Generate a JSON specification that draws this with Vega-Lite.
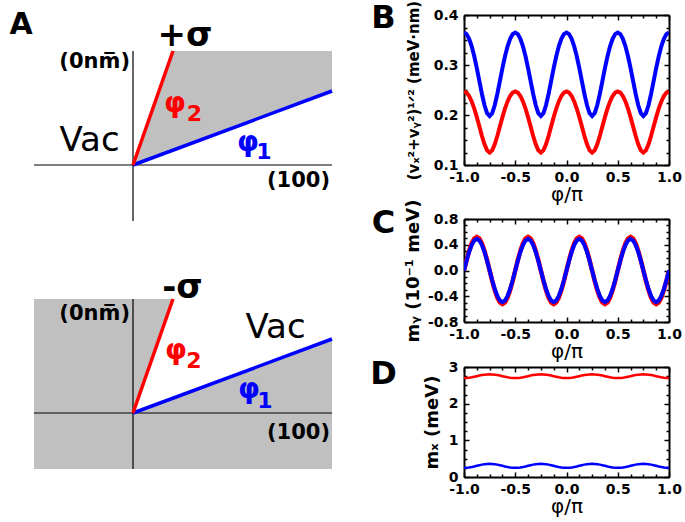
{
"$schema":"https://vega.github.io/schema/vega-lite/v6.json",
"padding":0,
"background":"white",
"datasets":{"curves":[
{"phi":-1,"vB":0.365,"vR":0.247,"myR":0,"myB":0,"mxR":2.7,"mxB":0.25},
{"phi":-0.975,"vB":0.3618,"vR":0.2447,"myR":0.1607,"myB":0.1514,"mxR":2.7024,"mxB":0.2527},
{"phi":-0.95,"vB":0.3525,"vR":0.238,"myR":0.3057,"myB":0.288,"mxR":2.7096,"mxB":0.2605},
{"phi":-0.925,"vB":0.3374,"vR":0.2272,"myR":0.4207,"myB":0.3964,"mxR":2.7206,"mxB":0.2727},
{"phi":-0.9,"vB":0.3174,"vR":0.2129,"myR":0.4946,"myB":0.466,"mxR":2.7346,"mxB":0.288},
{"phi":-0.875,"vB":0.2936,"vR":0.1957,"myR":0.52,"myB":0.49,"mxR":2.75,"mxB":0.305},
{"phi":-0.85,"vB":0.2677,"vR":0.1769,"myR":0.4946,"myB":0.466,"mxR":2.7655,"mxB":0.322},
{"phi":-0.825,"vB":0.242,"vR":0.158,"myR":0.4207,"myB":0.3964,"mxR":2.7794,"mxB":0.3373},
{"phi":-0.8,"vB":0.2195,"vR":0.1412,"myR":0.3057,"myB":0.288,"mxR":2.7905,"mxB":0.3495},
{"phi":-0.775,"vB":0.2037,"vR":0.1293,"myR":0.1607,"myB":0.1514,"mxR":2.7976,"mxB":0.3573},
{"phi":-0.75,"vB":0.198,"vR":0.1249,"myR":0,"myB":0,"mxR":2.8,"mxB":0.36},
{"phi":-0.725,"vB":0.2037,"vR":0.1293,"myR":-0.1607,"myB":-0.1514,"mxR":2.7976,"mxB":0.3573},
{"phi":-0.7,"vB":0.2195,"vR":0.1412,"myR":-0.3057,"myB":-0.288,"mxR":2.7905,"mxB":0.3495},
{"phi":-0.675,"vB":0.242,"vR":0.158,"myR":-0.4207,"myB":-0.3964,"mxR":2.7794,"mxB":0.3373},
{"phi":-0.65,"vB":0.2677,"vR":0.1769,"myR":-0.4946,"myB":-0.466,"mxR":2.7655,"mxB":0.322},
{"phi":-0.625,"vB":0.2936,"vR":0.1957,"myR":-0.52,"myB":-0.49,"mxR":2.75,"mxB":0.305},
{"phi":-0.6,"vB":0.3174,"vR":0.2129,"myR":-0.4946,"myB":-0.466,"mxR":2.7346,"mxB":0.288},
{"phi":-0.575,"vB":0.3374,"vR":0.2272,"myR":-0.4207,"myB":-0.3964,"mxR":2.7206,"mxB":0.2727},
{"phi":-0.55,"vB":0.3525,"vR":0.238,"myR":-0.3057,"myB":-0.288,"mxR":2.7096,"mxB":0.2605},
{"phi":-0.525,"vB":0.3618,"vR":0.2447,"myR":-0.1607,"myB":-0.1514,"mxR":2.7024,"mxB":0.2527},
{"phi":-0.5,"vB":0.365,"vR":0.247,"myR":0,"myB":0,"mxR":2.7,"mxB":0.25},
{"phi":-0.475,"vB":0.3618,"vR":0.2447,"myR":0.1607,"myB":0.1514,"mxR":2.7024,"mxB":0.2527},
{"phi":-0.45,"vB":0.3525,"vR":0.238,"myR":0.3057,"myB":0.288,"mxR":2.7096,"mxB":0.2605},
{"phi":-0.425,"vB":0.3374,"vR":0.2272,"myR":0.4207,"myB":0.3964,"mxR":2.7206,"mxB":0.2727},
{"phi":-0.4,"vB":0.3174,"vR":0.2129,"myR":0.4946,"myB":0.466,"mxR":2.7346,"mxB":0.288},
{"phi":-0.375,"vB":0.2936,"vR":0.1957,"myR":0.52,"myB":0.49,"mxR":2.75,"mxB":0.305},
{"phi":-0.35,"vB":0.2677,"vR":0.1769,"myR":0.4946,"myB":0.466,"mxR":2.7655,"mxB":0.322},
{"phi":-0.325,"vB":0.242,"vR":0.158,"myR":0.4207,"myB":0.3964,"mxR":2.7794,"mxB":0.3373},
{"phi":-0.3,"vB":0.2195,"vR":0.1412,"myR":0.3057,"myB":0.288,"mxR":2.7905,"mxB":0.3495},
{"phi":-0.275,"vB":0.2037,"vR":0.1293,"myR":0.1607,"myB":0.1514,"mxR":2.7976,"mxB":0.3573},
{"phi":-0.25,"vB":0.198,"vR":0.1249,"myR":0,"myB":0,"mxR":2.8,"mxB":0.36},
{"phi":-0.225,"vB":0.2037,"vR":0.1293,"myR":-0.1607,"myB":-0.1514,"mxR":2.7976,"mxB":0.3573},
{"phi":-0.2,"vB":0.2195,"vR":0.1412,"myR":-0.3057,"myB":-0.288,"mxR":2.7905,"mxB":0.3495},
{"phi":-0.175,"vB":0.242,"vR":0.158,"myR":-0.4207,"myB":-0.3964,"mxR":2.7794,"mxB":0.3373},
{"phi":-0.15,"vB":0.2677,"vR":0.1769,"myR":-0.4946,"myB":-0.466,"mxR":2.7655,"mxB":0.322},
{"phi":-0.125,"vB":0.2936,"vR":0.1957,"myR":-0.52,"myB":-0.49,"mxR":2.75,"mxB":0.305},
{"phi":-0.1,"vB":0.3174,"vR":0.2129,"myR":-0.4946,"myB":-0.466,"mxR":2.7346,"mxB":0.288},
{"phi":-0.075,"vB":0.3374,"vR":0.2272,"myR":-0.4207,"myB":-0.3964,"mxR":2.7206,"mxB":0.2727},
{"phi":-0.05,"vB":0.3525,"vR":0.238,"myR":-0.3057,"myB":-0.288,"mxR":2.7096,"mxB":0.2605},
{"phi":-0.025,"vB":0.3618,"vR":0.2447,"myR":-0.1607,"myB":-0.1514,"mxR":2.7024,"mxB":0.2527},
{"phi":0,"vB":0.365,"vR":0.247,"myR":0,"myB":0,"mxR":2.7,"mxB":0.25},
{"phi":0.025,"vB":0.3618,"vR":0.2447,"myR":0.1607,"myB":0.1514,"mxR":2.7024,"mxB":0.2527},
{"phi":0.05,"vB":0.3525,"vR":0.238,"myR":0.3057,"myB":0.288,"mxR":2.7096,"mxB":0.2605},
{"phi":0.075,"vB":0.3374,"vR":0.2272,"myR":0.4207,"myB":0.3964,"mxR":2.7206,"mxB":0.2727},
{"phi":0.1,"vB":0.3174,"vR":0.2129,"myR":0.4946,"myB":0.466,"mxR":2.7346,"mxB":0.288},
{"phi":0.125,"vB":0.2936,"vR":0.1957,"myR":0.52,"myB":0.49,"mxR":2.75,"mxB":0.305},
{"phi":0.15,"vB":0.2677,"vR":0.1769,"myR":0.4946,"myB":0.466,"mxR":2.7655,"mxB":0.322},
{"phi":0.175,"vB":0.242,"vR":0.158,"myR":0.4207,"myB":0.3964,"mxR":2.7794,"mxB":0.3373},
{"phi":0.2,"vB":0.2195,"vR":0.1412,"myR":0.3057,"myB":0.288,"mxR":2.7905,"mxB":0.3495},
{"phi":0.225,"vB":0.2037,"vR":0.1293,"myR":0.1607,"myB":0.1514,"mxR":2.7976,"mxB":0.3573},
{"phi":0.25,"vB":0.198,"vR":0.1249,"myR":0,"myB":0,"mxR":2.8,"mxB":0.36},
{"phi":0.275,"vB":0.2037,"vR":0.1293,"myR":-0.1607,"myB":-0.1514,"mxR":2.7976,"mxB":0.3573},
{"phi":0.3,"vB":0.2195,"vR":0.1412,"myR":-0.3057,"myB":-0.288,"mxR":2.7905,"mxB":0.3495},
{"phi":0.325,"vB":0.242,"vR":0.158,"myR":-0.4207,"myB":-0.3964,"mxR":2.7794,"mxB":0.3373},
{"phi":0.35,"vB":0.2677,"vR":0.1769,"myR":-0.4946,"myB":-0.466,"mxR":2.7655,"mxB":0.322},
{"phi":0.375,"vB":0.2936,"vR":0.1957,"myR":-0.52,"myB":-0.49,"mxR":2.75,"mxB":0.305},
{"phi":0.4,"vB":0.3174,"vR":0.2129,"myR":-0.4946,"myB":-0.466,"mxR":2.7346,"mxB":0.288},
{"phi":0.425,"vB":0.3374,"vR":0.2272,"myR":-0.4207,"myB":-0.3964,"mxR":2.7206,"mxB":0.2727},
{"phi":0.45,"vB":0.3525,"vR":0.238,"myR":-0.3057,"myB":-0.288,"mxR":2.7096,"mxB":0.2605},
{"phi":0.475,"vB":0.3618,"vR":0.2447,"myR":-0.1607,"myB":-0.1514,"mxR":2.7024,"mxB":0.2527},
{"phi":0.5,"vB":0.365,"vR":0.247,"myR":0,"myB":0,"mxR":2.7,"mxB":0.25},
{"phi":0.525,"vB":0.3618,"vR":0.2447,"myR":0.1607,"myB":0.1514,"mxR":2.7024,"mxB":0.2527},
{"phi":0.55,"vB":0.3525,"vR":0.238,"myR":0.3057,"myB":0.288,"mxR":2.7096,"mxB":0.2605},
{"phi":0.575,"vB":0.3374,"vR":0.2272,"myR":0.4207,"myB":0.3964,"mxR":2.7206,"mxB":0.2727},
{"phi":0.6,"vB":0.3174,"vR":0.2129,"myR":0.4946,"myB":0.466,"mxR":2.7346,"mxB":0.288},
{"phi":0.625,"vB":0.2936,"vR":0.1957,"myR":0.52,"myB":0.49,"mxR":2.75,"mxB":0.305},
{"phi":0.65,"vB":0.2677,"vR":0.1769,"myR":0.4946,"myB":0.466,"mxR":2.7655,"mxB":0.322},
{"phi":0.675,"vB":0.242,"vR":0.158,"myR":0.4207,"myB":0.3964,"mxR":2.7794,"mxB":0.3373},
{"phi":0.7,"vB":0.2195,"vR":0.1412,"myR":0.3057,"myB":0.288,"mxR":2.7905,"mxB":0.3495},
{"phi":0.725,"vB":0.2037,"vR":0.1293,"myR":0.1607,"myB":0.1514,"mxR":2.7976,"mxB":0.3573},
{"phi":0.75,"vB":0.198,"vR":0.1249,"myR":0,"myB":0,"mxR":2.8,"mxB":0.36},
{"phi":0.775,"vB":0.2037,"vR":0.1293,"myR":-0.1607,"myB":-0.1514,"mxR":2.7976,"mxB":0.3573},
{"phi":0.8,"vB":0.2195,"vR":0.1412,"myR":-0.3057,"myB":-0.288,"mxR":2.7905,"mxB":0.3495},
{"phi":0.825,"vB":0.242,"vR":0.158,"myR":-0.4207,"myB":-0.3964,"mxR":2.7794,"mxB":0.3373},
{"phi":0.85,"vB":0.2677,"vR":0.1769,"myR":-0.4946,"myB":-0.466,"mxR":2.7655,"mxB":0.322},
{"phi":0.875,"vB":0.2936,"vR":0.1957,"myR":-0.52,"myB":-0.49,"mxR":2.75,"mxB":0.305},
{"phi":0.9,"vB":0.3174,"vR":0.2129,"myR":-0.4946,"myB":-0.466,"mxR":2.7346,"mxB":0.288},
{"phi":0.925,"vB":0.3374,"vR":0.2272,"myR":-0.4207,"myB":-0.3964,"mxR":2.7206,"mxB":0.2727},
{"phi":0.95,"vB":0.3525,"vR":0.238,"myR":-0.3057,"myB":-0.288,"mxR":2.7096,"mxB":0.2605},
{"phi":0.975,"vB":0.3618,"vR":0.2447,"myR":-0.1607,"myB":-0.1514,"mxR":2.7024,"mxB":0.2527},
{"phi":1,"vB":0.365,"vR":0.247,"myR":0,"myB":0,"mxR":2.7,"mxB":0.25}
]},
"hconcat":[
{"vconcat":[
 {"width":340,"height":260,
  "layer":[
   {"data":{"values":[{"x":0,"lo":0,"hi":0},{"x":40,"lo":14.9,"hi":114},{"x":199,"lo":74,"hi":114}]},
    "mark":{"type":"area","color":"#c0c0c0","opacity":1},
    "encoding":{"x":{"field":"x","type":"quantitative","scale":{"domain":[-133,207],"nice":false,"zero":false},"axis":null},
                "y":{"field":"lo","type":"quantitative","scale":{"domain":[-96,164],"nice":false,"zero":false},"axis":null},
                "y2":{"field":"hi"}}},
   {"data":{"values":[{"x1":-99,"x2":199,"y1":0,"y2":0},{"x1":0,"x2":0,"y1":-56,"y2":114}]},
    "mark":{"type":"rule","color":"#000000","strokeWidth":1.2},
    "encoding":{"x":{"field":"x1","type":"quantitative","axis":null},"x2":{"field":"x2"},"y":{"field":"y1","type":"quantitative","axis":null},"y2":{"field":"y2"}}},
   {"data":{"values":[{"line":"φ1","x1":0,"y1":0,"x2":199,"y2":74},{"line":"φ2","x1":0,"y1":0,"x2":40,"y2":114}]},
    "mark":{"type":"rule","strokeWidth":3.5},
    "encoding":{"x":{"field":"x1","type":"quantitative","axis":null},"x2":{"field":"x2"},"y":{"field":"y1","type":"quantitative","axis":null},"y2":{"field":"y2"},
                "color":{"field":"line","type":"nominal","scale":{"domain":["φ1","φ2"],"range":["#0000ff","#ff0000"]},"legend":null}}},
   {"data":{"values":[{"t":"φ","line":"φ2","x":42,"y":53},{"t":"φ","line":"φ1","x":115,"y":14.5}]},
    "mark":{"type":"text","font":"DejaVu Sans","fontSize":28,"fontWeight":"bold","align":"center","baseline":"alphabetic"},
    "encoding":{"x":{"field":"x","type":"quantitative","axis":null},"y":{"field":"y","type":"quantitative","axis":null},"text":{"field":"t"},"color":{"field":"line","type":"nominal","legend":null}}},
   {"data":{"values":[{"t":"2","line":"φ2","x":61.5,"y":44},{"t":"1","line":"φ1","x":131,"y":6}]},
    "mark":{"type":"text","font":"DejaVu Sans","fontSize":22,"fontWeight":"bold","align":"center","baseline":"alphabetic"},
    "encoding":{"x":{"field":"x","type":"quantitative","axis":null},"y":{"field":"y","type":"quantitative","axis":null},"text":{"field":"t"},"color":{"field":"line","type":"nominal","legend":null}}},
   {"data":{"values":[{"t":"(0nm\u0305)","x":-3,"y":97},{"t":"(100)","x":197,"y":-22}]},
    "mark":{"type":"text","font":"DejaVu Sans","fontSize":21,"fontWeight":"bold","align":"right","baseline":"alphabetic","color":"#000000"},
    "encoding":{"x":{"field":"x","type":"quantitative","axis":null},"y":{"field":"y","type":"quantitative","axis":null},"text":{"field":"t"}}},
   {"data":{"values":[{"t":"Vac","x":-43.5,"y":14}]},
    "mark":{"type":"text","font":"DejaVu Sans","fontSize":34,"fontWeight":"normal","align":"center","baseline":"alphabetic","color":"#000000"},
    "encoding":{"x":{"field":"x","type":"quantitative","axis":null},"y":{"field":"y","type":"quantitative","axis":null},"text":{"field":"t"}}},
   {"data":{"values":[{"t":"+σ","x":52,"y":119}]},
    "mark":{"type":"text","font":"DejaVu Sans","fontSize":34,"fontWeight":"bold","align":"center","baseline":"alphabetic","color":"#000000"},
    "encoding":{"x":{"field":"x","type":"quantitative","axis":null},"y":{"field":"y","type":"quantitative","axis":null},"text":{"field":"t"}}},
   {"data":{"values":[{"t":"A","x":-112,"y":131}]},
    "mark":{"type":"text","font":"DejaVu Sans","fontSize":30,"fontWeight":"bold","align":"center","baseline":"alphabetic","color":"#000000"},
    "encoding":{"x":{"field":"x","type":"quantitative","axis":null},"y":{"field":"y","type":"quantitative","axis":null},"text":{"field":"t"}}}
  ]},
 {"width":340,"height":262,
  "layer":[
   {"data":{"values":[{"x1":-99,"x2":199,"y1":-56,"y2":114}]},
    "mark":{"type":"rect","color":"#c0c0c0","opacity":1},
    "encoding":{"x":{"field":"x1","type":"quantitative","scale":{"domain":[-133,207],"nice":false,"zero":false},"axis":null},"x2":{"field":"x2"},
                "y":{"field":"y1","type":"quantitative","scale":{"domain":[-110,152],"nice":false,"zero":false},"axis":null},"y2":{"field":"y2"}}},
   {"data":{"values":[{"x":0,"lo":0,"hi":0},{"x":40,"lo":14.9,"hi":114},{"x":199,"lo":74,"hi":114}]},
    "mark":{"type":"area","color":"#ffffff","opacity":1},
    "encoding":{"x":{"field":"x","type":"quantitative","axis":null},"y":{"field":"lo","type":"quantitative","axis":null},"y2":{"field":"hi"}}},
   {"data":{"values":[{"x1":-99,"x2":199,"y1":0,"y2":0},{"x1":0,"x2":0,"y1":-56,"y2":114}]},
    "mark":{"type":"rule","color":"#000000","strokeWidth":1.2},
    "encoding":{"x":{"field":"x1","type":"quantitative","axis":null},"x2":{"field":"x2"},"y":{"field":"y1","type":"quantitative","axis":null},"y2":{"field":"y2"}}},
   {"data":{"values":[{"line":"φ1","x1":0,"y1":0,"x2":199,"y2":74},{"line":"φ2","x1":0,"y1":0,"x2":40,"y2":114}]},
    "mark":{"type":"rule","strokeWidth":3.5},
    "encoding":{"x":{"field":"x1","type":"quantitative","axis":null},"x2":{"field":"x2"},"y":{"field":"y1","type":"quantitative","axis":null},"y2":{"field":"y2"},
                "color":{"field":"line","type":"nominal","scale":{"domain":["φ1","φ2"],"range":["#0000ff","#ff0000"]},"legend":null}}},
   {"data":{"values":[{"t":"φ","line":"φ2","x":43,"y":54},{"t":"φ","line":"φ1","x":116,"y":15}]},
    "mark":{"type":"text","font":"DejaVu Sans","fontSize":28,"fontWeight":"bold","align":"center","baseline":"alphabetic"},
    "encoding":{"x":{"field":"x","type":"quantitative","axis":null},"y":{"field":"y","type":"quantitative","axis":null},"text":{"field":"t"},"color":{"field":"line","type":"nominal","legend":null}}},
   {"data":{"values":[{"t":"2","line":"φ2","x":61,"y":45},{"t":"1","line":"φ1","x":132,"y":5}]},
    "mark":{"type":"text","font":"DejaVu Sans","fontSize":22,"fontWeight":"bold","align":"center","baseline":"alphabetic"},
    "encoding":{"x":{"field":"x","type":"quantitative","axis":null},"y":{"field":"y","type":"quantitative","axis":null},"text":{"field":"t"},"color":{"field":"line","type":"nominal","legend":null}}},
   {"data":{"values":[{"t":"(0nm\u0305)","x":-3,"y":93},{"t":"(100)","x":197,"y":-26}]},
    "mark":{"type":"text","font":"DejaVu Sans","fontSize":21,"fontWeight":"bold","align":"right","baseline":"alphabetic","color":"#000000"},
    "encoding":{"x":{"field":"x","type":"quantitative","axis":null},"y":{"field":"y","type":"quantitative","axis":null},"text":{"field":"t"}}},
   {"data":{"values":[{"t":"Vac","x":142.5,"y":75}]},
    "mark":{"type":"text","font":"DejaVu Sans","fontSize":34,"fontWeight":"normal","align":"center","baseline":"alphabetic","color":"#000000"},
    "encoding":{"x":{"field":"x","type":"quantitative","axis":null},"y":{"field":"y","type":"quantitative","axis":null},"text":{"field":"t"}}},
   {"data":{"values":[{"t":"-σ","x":49.5,"y":115}]},
    "mark":{"type":"text","font":"DejaVu Sans","fontSize":34,"fontWeight":"bold","align":"center","baseline":"alphabetic","color":"#000000"},
    "encoding":{"x":{"field":"x","type":"quantitative","axis":null},"y":{"field":"y","type":"quantitative","axis":null},"text":{"field":"t"}}}
  ]}
 ],"spacing":0,"bounds":"flush"},
{"vconcat":[
 {"width":205,"height":14,"data":{"values":[{"a":1}]},"mark":{"type":"text","text":""}},
 {"width":205,"height":150,
  "data":{"name":"curves"},
  "layer":[
   {"mark":{"type":"line","color":"#ff0000","strokeWidth":4,"clip":true},
    "encoding":{
     "x":{"field":"phi","type":"quantitative","scale":{"domain":[-1,1],"nice":false,"zero":false},
          "axis":{"orient":"bottom","values":[-1,-0.5,0,0.5,1],"labelExpr":"replace(format(datum.value,'.1f'),'\u2212','-')","tickSize":-5,"labelPadding":10,"title":"φ/π","titleFontSize":20,"titleFontWeight":"normal","titlePadding":0}},
     "y":{"field":"vR","type":"quantitative","scale":{"domain":[0.1,0.4],"nice":false,"zero":false},
          "axis":{"orient":"left","values":[0.1,0.2,0.3,0.4],"labelExpr":"format(datum.value,'.1f')","tickSize":-5,"labelPadding":11,"title":"(vₓ²+vᵧ²)¹ᐟ² (meV·nm)","titleFontSize":15,"titlePadding":12}}}},
   {"mark":{"type":"line","color":"#0000ff","strokeWidth":4,"clip":true},
    "encoding":{
     "x":{"field":"phi","type":"quantitative","axis":{"orient":"top","values":[-1,-0.5,0,0.5,1],"labels":false,"tickSize":-5,"title":null}},
     "y":{"field":"vB","type":"quantitative","axis":{"orient":"right","values":[0.1,0.2,0.3,0.4],"labels":false,"tickSize":-5,"title":null}}}},
   {"mark":{"type":"point","opacity":0},
    "encoding":{
     "x":{"field":"phi","type":"quantitative","axis":{"orient":"bottom","values":[-0.875,-0.75,-0.625,-0.375,-0.25,-0.125,0.125,0.25,0.375,0.625,0.75,0.875],"labels":false,"domain":false,"tickSize":-3,"title":null}},
     "y":{"field":"vB","type":"quantitative","axis":{"orient":"left","values":[0.125,0.15,0.175,0.225,0.25,0.275,0.325,0.35,0.375],"labels":false,"domain":false,"tickSize":-3,"title":null}}}},
   {"mark":{"type":"point","opacity":0},
    "encoding":{
     "x":{"field":"phi","type":"quantitative","axis":{"orient":"top","values":[-0.875,-0.75,-0.625,-0.375,-0.25,-0.125,0.125,0.25,0.375,0.625,0.75,0.875],"labels":false,"domain":false,"tickSize":-3,"title":null}},
     "y":{"field":"vB","type":"quantitative","axis":{"orient":"right","values":[0.125,0.15,0.175,0.225,0.25,0.275,0.325,0.35,0.375],"labels":false,"domain":false,"tickSize":-3,"title":null}}}},
   {"data":{"values":[{"t":"B","x":-1.785,"y":0.374}]},
    "mark":{"type":"text","font":"DejaVu Sans","fontSize":32,"fontWeight":"bold","align":"center","baseline":"alphabetic","color":"#000000"},
    "encoding":{"x":{"field":"x","type":"quantitative","scale":{"domain":[-1,1],"nice":false,"zero":false},"axis":null},"y":{"field":"y","type":"quantitative","scale":{"domain":[0.1,0.4],"nice":false,"zero":false},"axis":null},"text":{"field":"t"}}}
  ],
  "resolve":{"axis":{"x":"independent","y":"independent"}}},
 {"width":205,"height":54,"data":{"values":[{"a":1}]},"mark":{"type":"text","text":""}},
 {"width":205,"height":103,
  "data":{"name":"curves"},
  "layer":[
   {"mark":{"type":"line","color":"#ff0000","strokeWidth":4.5,"clip":true},
    "encoding":{
     "x":{"field":"phi","type":"quantitative","scale":{"domain":[-1,1],"nice":false,"zero":false},
          "axis":{"orient":"bottom","values":[-1,-0.5,0,0.5,1],"labelExpr":"replace(format(datum.value,'.1f'),'\u2212','-')","tickSize":-5,"labelPadding":10,"title":"φ/π","titleFontSize":20,"titleFontWeight":"normal","titlePadding":0}},
     "y":{"field":"myR","type":"quantitative","scale":{"domain":[-0.8,0.8],"nice":false,"zero":false},
          "axis":{"orient":"left","values":[-0.8,-0.4,0,0.4,0.8],"labelExpr":"replace(format(datum.value,'.1f'),'\u2212','-')","tickSize":-5,"labelPadding":11,"title":"mᵧ (10⁻¹ meV)","titlePadding":5}}}},
   {"mark":{"type":"line","color":"#0000ff","strokeWidth":4,"clip":true},
    "encoding":{
     "x":{"field":"phi","type":"quantitative","axis":{"orient":"top","values":[-1,-0.5,0,0.5,1],"labels":false,"tickSize":-5,"title":null}},
     "y":{"field":"myB","type":"quantitative","axis":{"orient":"right","values":[-0.8,-0.4,0,0.4,0.8],"labels":false,"tickSize":-5,"title":null}}}},
   {"mark":{"type":"point","opacity":0},
    "encoding":{
     "x":{"field":"phi","type":"quantitative","axis":{"orient":"bottom","values":[-0.875,-0.75,-0.625,-0.375,-0.25,-0.125,0.125,0.25,0.375,0.625,0.75,0.875],"labels":false,"domain":false,"tickSize":-3,"title":null}},
     "y":{"field":"myB","type":"quantitative","axis":{"orient":"left","values":[-0.7,-0.6,-0.5,-0.3,-0.2,-0.1,0.1,0.2,0.3,0.5,0.6,0.7],"labels":false,"domain":false,"tickSize":-3,"title":null}}}},
   {"mark":{"type":"point","opacity":0},
    "encoding":{
     "x":{"field":"phi","type":"quantitative","axis":{"orient":"top","values":[-0.875,-0.75,-0.625,-0.375,-0.25,-0.125,0.125,0.25,0.375,0.625,0.75,0.875],"labels":false,"domain":false,"tickSize":-3,"title":null}},
     "y":{"field":"myB","type":"quantitative","axis":{"orient":"right","values":[-0.7,-0.6,-0.5,-0.3,-0.2,-0.1,0.1,0.2,0.3,0.5,0.6,0.7],"labels":false,"domain":false,"tickSize":-3,"title":null}}}},
   {"data":{"values":[{"t":"C","x":-1.785,"y":0.583}]},
    "mark":{"type":"text","font":"DejaVu Sans","fontSize":32,"fontWeight":"bold","align":"center","baseline":"alphabetic","color":"#000000"},
    "encoding":{"x":{"field":"x","type":"quantitative","scale":{"domain":[-1,1],"nice":false,"zero":false},"axis":null},"y":{"field":"y","type":"quantitative","scale":{"domain":[-0.8,0.8],"nice":false,"zero":false},"axis":null},"text":{"field":"t"}}}
  ],
  "resolve":{"axis":{"x":"independent","y":"independent"}}},
 {"width":205,"height":45,"data":{"values":[{"a":1}]},"mark":{"type":"text","text":""}},
 {"width":205,"height":110,
  "data":{"name":"curves"},
  "layer":[
   {"mark":{"type":"line","color":"#ff0000","strokeWidth":2.5,"clip":true},
    "encoding":{
     "x":{"field":"phi","type":"quantitative","scale":{"domain":[-1,1],"nice":false,"zero":false},
          "axis":{"orient":"bottom","values":[-1,-0.5,0,0.5,1],"labelExpr":"replace(format(datum.value,'.1f'),'\u2212','-')","tickSize":-5,"labelPadding":10,"title":"φ/π","titleFontSize":20,"titleFontWeight":"normal","titlePadding":0}},
     "y":{"field":"mxR","type":"quantitative","scale":{"domain":[0,3],"nice":false,"zero":false},
          "axis":{"orient":"left","values":[0,1,2,3],"labelExpr":"format(datum.value,'d')","tickSize":-5,"labelPadding":11,"title":"mₓ (meV)","titlePadding":7}}}},
   {"mark":{"type":"line","color":"#0000ff","strokeWidth":2.5,"clip":true},
    "encoding":{
     "x":{"field":"phi","type":"quantitative","axis":{"orient":"top","values":[-1,-0.5,0,0.5,1],"labels":false,"tickSize":-5,"title":null}},
     "y":{"field":"mxB","type":"quantitative","axis":{"orient":"right","values":[0,1,2,3],"labels":false,"tickSize":-5,"title":null}}}},
   {"mark":{"type":"point","opacity":0},
    "encoding":{
     "x":{"field":"phi","type":"quantitative","axis":{"orient":"bottom","values":[-0.875,-0.75,-0.625,-0.375,-0.25,-0.125,0.125,0.25,0.375,0.625,0.75,0.875],"labels":false,"domain":false,"tickSize":-3,"title":null}},
     "y":{"field":"mxB","type":"quantitative","axis":{"orient":"left","values":[0.25,0.5,0.75,1.25,1.5,1.75,2.25,2.5,2.75],"labels":false,"domain":false,"tickSize":-3,"title":null}}}},
   {"mark":{"type":"point","opacity":0},
    "encoding":{
     "x":{"field":"phi","type":"quantitative","axis":{"orient":"top","values":[-0.875,-0.75,-0.625,-0.375,-0.25,-0.125,0.125,0.25,0.375,0.625,0.75,0.875],"labels":false,"domain":false,"tickSize":-3,"title":null}},
     "y":{"field":"mxB","type":"quantitative","axis":{"orient":"right","values":[0.25,0.5,0.75,1.25,1.5,1.75,2.25,2.5,2.75],"labels":false,"domain":false,"tickSize":-3,"title":null}}}},
   {"data":{"values":[{"t":"D","x":-1.785,"y":2.536}]},
    "mark":{"type":"text","font":"DejaVu Sans","fontSize":32,"fontWeight":"bold","align":"center","baseline":"alphabetic","color":"#000000"},
    "encoding":{"x":{"field":"x","type":"quantitative","scale":{"domain":[-1,1],"nice":false,"zero":false},"axis":null},"y":{"field":"y","type":"quantitative","scale":{"domain":[0,3],"nice":false,"zero":false},"axis":null},"text":{"field":"t"}}}
  ],
  "resolve":{"axis":{"x":"independent","y":"independent"}}}
 ],"spacing":0,"bounds":"flush"}
],
"spacing":30,
"config":{
 "view":{"stroke":null},
 "axis":{"grid":false,"domainColor":"#000000","tickColor":"#000000","labelColor":"#000000","titleColor":"#000000","labelFont":"DejaVu Sans","titleFont":"DejaVu Sans","labelFontSize":14,"labelFontWeight":"bold","titleFontWeight":"bold","titleFontSize":18,"labelFlush":false,"labelOverlap":false,"tickWidth":1.5,"domainWidth":2},
 "text":{"font":"DejaVu Sans"}
}
}
